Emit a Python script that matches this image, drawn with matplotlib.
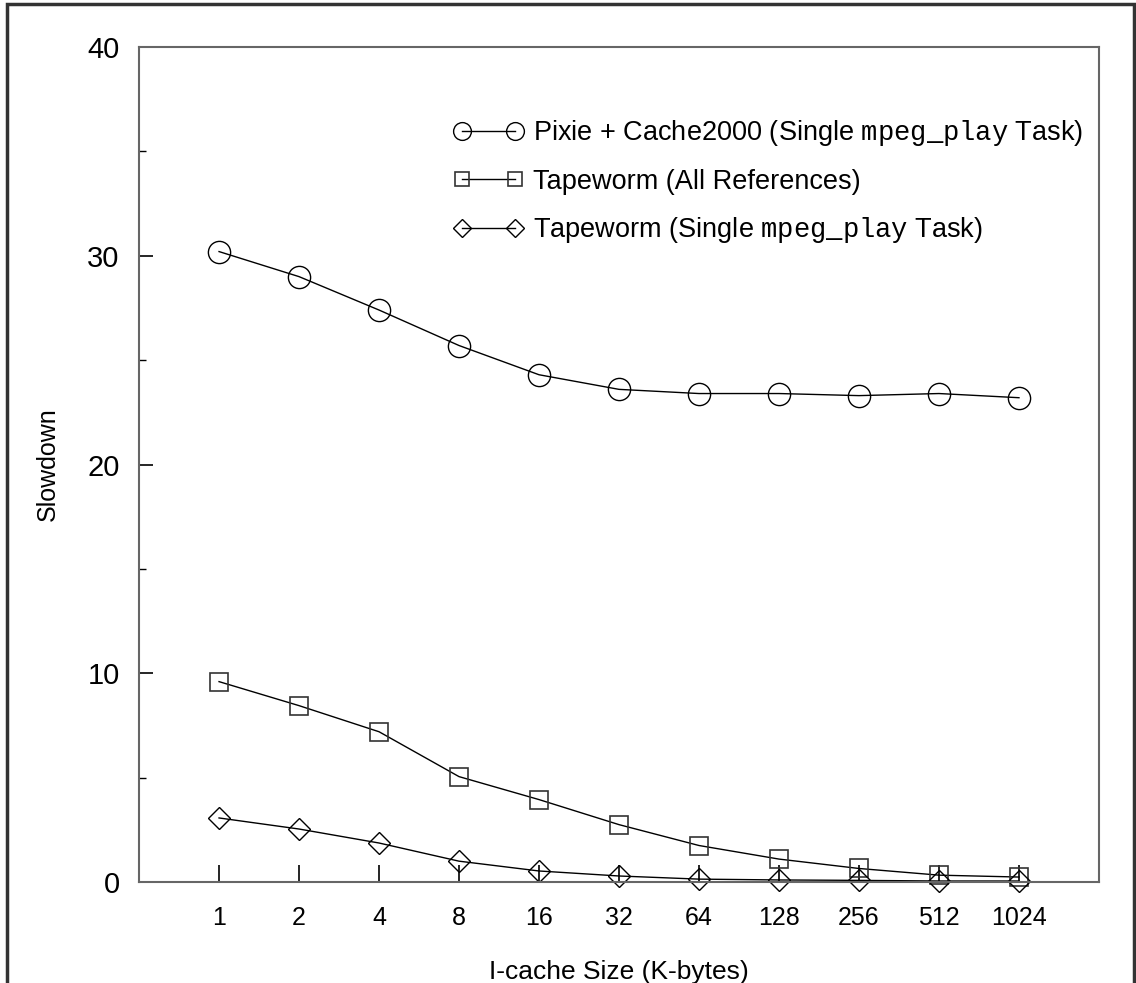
import matplotlib
matplotlib.use("Agg")
import matplotlib.pyplot as plt
from matplotlib.patches import Rectangle
from matplotlib.ticker import MultipleLocator

plt.rcParams['font.family'] = ['Liberation Sans', 'DejaVu Sans']
plt.rcParams['mathtext.fontset'] = 'custom'
plt.rcParams['mathtext.rm'] = 'Liberation Sans'
plt.rcParams['mathtext.tt'] = 'Liberation Mono'

# cache sizes (K-bytes) shown as evenly spaced categories
sizes = ['1', '2', '4', '8', '16', '32', '64', '128', '256', '512', '1024']
pixie = [30.2, 29.0, 27.4, 25.7, 24.3, 23.6, 23.4, 23.4, 23.3, 23.4, 23.2]
tw_all = [9.6, 8.45, 7.2, 5.05, 3.95, 2.75, 1.75, 1.1, 0.65, 0.33, 0.24]
tw_single = [3.07, 2.54, 1.87, 1.0, 0.53, 0.29, 0.14, 0.1, 0.08, 0.05, 0.05]

xpos = list(range(1, len(sizes) + 1))

fig = plt.figure(figsize=(11.36, 9.83), dpi=100)
ax = fig.add_axes([0.1224, 0.1027, 0.845, 0.8495])

# outer frame around the whole figure (cut off at bottom)
fig.patches.append(Rectangle((0.0062, -0.05), 0.9918, 1.0459, transform=fig.transFigure,
                             fill=False, edgecolor='#333333', linewidth=2.5))

ax.plot(xpos, pixie, color='black', lw=1, marker='o', ms=16, mfc='none', mec='black',
        mew=1, clip_on=False,
        label=r'Pixie + Cache2000 (Single $\mathtt{mpeg\_play}$ Task)')
ax.plot(xpos, tw_all, color='black', lw=1, marker='s', ms=13, mfc='none', mec='#333333',
        mew=1.2, clip_on=False, label='Tapeworm (All References)')
ax.plot(xpos, tw_single, color='black', lw=1, marker='D', ms=11, mfc='none', mec='black',
        mew=1, clip_on=False,
        label=r'Tapeworm (Single $\mathtt{mpeg\_play}$ Task)')

ax.set_xlim(0, 12)
ax.set_ylim(0, 40)
ax.set_xticks(xpos)
ax.set_xticklabels(sizes)
ax.yaxis.set_major_locator(MultipleLocator(10))
ax.yaxis.set_minor_locator(MultipleLocator(5))

ax.tick_params(axis='x', direction='in', length=12, width=1.2, labelsize=18, pad=17,
               top=False)
ax.tick_params(axis='y', which='major', direction='in', length=10, width=1.2,
               labelsize=21, pad=14, right=False)
ax.tick_params(axis='y', which='minor', direction='in', length=5, width=1, right=False)

for side in ['left', 'right', 'top', 'bottom']:
    ax.spines[side].set_color('#666666')
    ax.spines[side].set_linewidth(1.5)

ax.set_xlabel('I-cache Size (K-bytes)', fontsize=19, labelpad=22)
ax.set_ylabel('Slowdown', fontsize=18, labelpad=20)

ax.legend(loc='upper left', bbox_to_anchor=(0.303, 0.944), frameon=False, fontsize=19.5,
          numpoints=2, handlelength=2.53, handletextpad=0.38, labelspacing=0.76,
          markerscale=0.8)

fig.savefig('out.png', dpi=100)
